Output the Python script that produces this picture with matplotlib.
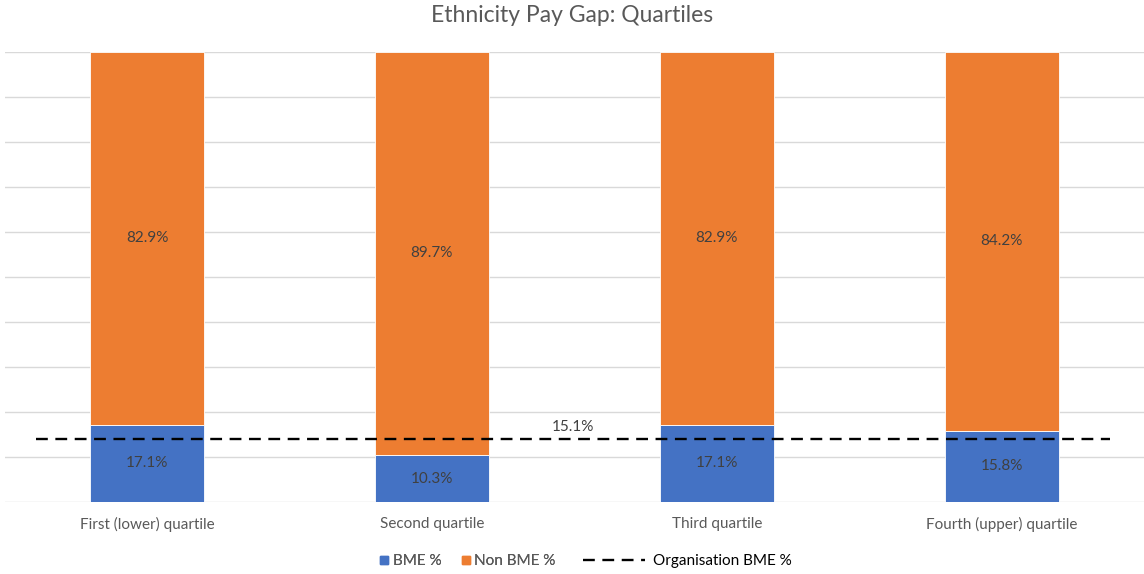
import numpy as np
import matplotlib.pyplot as plt
from matplotlib.lines import Line2D

plt.rcParams['font.family'] = ['Lato', 'DejaVu Sans']

quartiles = ["First (lower) quartile", "Second quartile", "Third quartile", "Fourth (upper) quartile"]
bme = [17.1, 10.3, 17.1, 15.8]
non_bme = [82.9, 89.7, 82.9, 84.2]
org_bme = 15.1

blue = "#4472C4"
orange = "#ED7D31"
grey_txt = "#595959"
val_txt = "#404040"

fig = plt.figure(figsize=(11.44, 5.74), dpi=100)
ax = fig.add_axes([0.004, 0.126, 0.996, 0.784])

x = np.arange(len(quartiles))
w = 0.4
ax.bar(x, bme, w, color=blue, edgecolor="white", linewidth=0.6, zorder=3)
ax.bar(x, non_bme, w, bottom=bme, color=orange, edgecolor="white", linewidth=0.6, zorder=3)

# data labels in the middle of each segment
for xi, b, n in zip(x, bme, non_bme):
    ax.text(xi, b / 2, f"{b:.1f}%", ha="center", va="center", fontsize=11, color=val_txt, zorder=4)
    ax.text(xi, b + n / 2, f"{n:.1f}%", ha="center", va="center", fontsize=11, color=val_txt, zorder=4)

ax.set_xlim(-0.5, len(quartiles) - 0.5)
ax.set_ylim(0, 100)
ax.set_yticks(np.arange(0, 101, 10))
ax.yaxis.grid(True, color="#D9D9D9", linewidth=1, zorder=0)
ax.set_axisbelow(True)
ax.set_xticks(x)
ax.set_xticklabels(quartiles)
for s in ax.spines.values():
    s.set_visible(False)

# organisation line sits on a secondary axis (like the excel original)
ax2 = ax.twinx()
ax2.set_ylim(0, 108.5)
ax2.axis("off")
# twinx turns the left ticks back on, so set them after
ax.tick_params(axis="y", left=False, right=False, labelleft=False)
ax.tick_params(axis="x", length=0, pad=11, labelsize=11, labelcolor=grey_txt)

line_x = [-0.39, 3.38]
ax2.plot(line_x, [org_bme, org_bme], color="black", linestyle=(0, (5, 3.2)), linewidth=1.7, zorder=5)
ax2.annotate(f"{org_bme:.1f}%", (np.mean(line_x), org_bme), xytext=(0, 9), textcoords="offset points",
             ha="center", va="center", fontsize=11, color=val_txt)

fig.text(0.5, 1 - 16 / 574, "Ethnicity Pay Gap: Quartiles", ha="center", va="center", fontsize=16.5, color=grey_txt)

sq = [Line2D([], [], marker="s", linestyle="none", color=blue, markersize=6),
      Line2D([], [], marker="s", linestyle="none", color=orange, markersize=6)]
leg1 = fig.legend(sq, ["BME %", "Non BME %"], loc="center left", bbox_to_anchor=(366 / 1144, 13 / 574),
                  ncol=2, frameon=False, fontsize=11, handlelength=0.6, handletextpad=0.25,
                  columnspacing=1.3, labelcolor=grey_txt)
dash = [Line2D([], [], color="black", linestyle=(0, (5, 3.2)), linewidth=1.7)]
leg2 = fig.legend(dash, ["Organisation BME %"], loc="center left", bbox_to_anchor=(569 / 1144, 13 / 574),
                  frameon=False, fontsize=11, handlelength=4.1, handletextpad=0.5, labelcolor="black")
fig.add_artist(leg1)

fig.savefig("out.png", dpi=100)
